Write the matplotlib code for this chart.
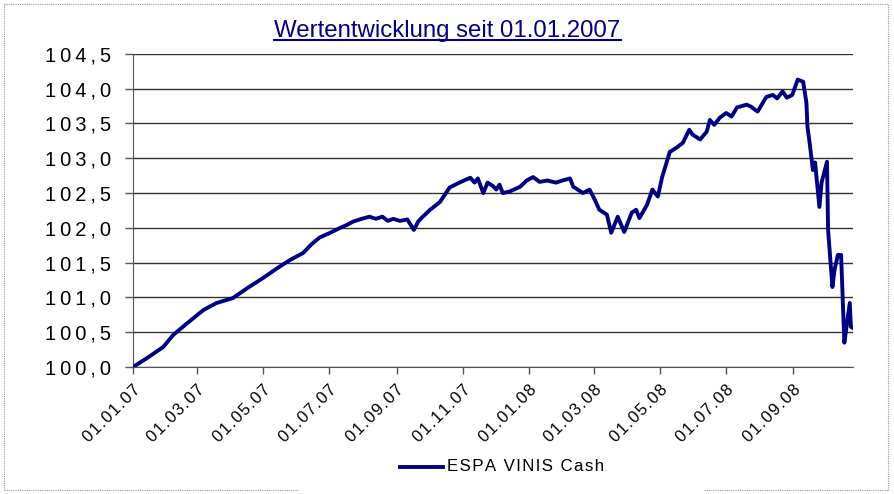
import matplotlib
matplotlib.use('Agg')
import matplotlib.pyplot as plt
import matplotlib.transforms as mtransforms
from matplotlib.lines import Line2D
import pandas as pd

plt.rcParams['font.family'] = ['Liberation Sans', 'DejaVu Sans']

# values
dates = ['2007-01-01', '2007-01-15', '2007-01-29', '2007-02-07', '2007-02-20', '2007-03-07',
         '2007-03-19', '2007-04-03', '2007-04-17', '2007-05-01', '2007-05-14', '2007-05-26',
         '2007-06-07', '2007-06-15', '2007-06-22', '2007-07-02', '2007-07-11', '2007-07-17',
         '2007-07-23', '2007-07-31', '2007-08-07', '2007-08-13', '2007-08-19', '2007-08-24',
         '2007-08-29', '2007-09-04', '2007-09-11', '2007-09-17', '2007-09-21', '2007-09-24',
         '2007-10-02', '2007-10-11', '2007-10-20', '2007-10-29', '2007-11-08', '2007-11-12',
         '2007-11-15', '2007-11-20', '2007-11-24', '2007-11-29', '2007-12-02', '2007-12-05',
         '2007-12-08', '2007-12-14', '2007-12-24', '2007-12-30', '2008-01-05', '2008-01-11',
         '2008-01-18', '2008-01-26', '2008-02-01', '2008-02-08', '2008-02-11', '2008-02-20',
         '2008-02-26', '2008-03-02', '2008-03-06', '2008-03-13', '2008-03-17', '2008-03-23',
         '2008-03-29', '2008-04-05', '2008-04-09', '2008-04-12', '2008-04-19', '2008-04-24',
         '2008-04-29', '2008-05-03', '2008-05-10', '2008-05-16', '2008-05-22', '2008-05-28',
         '2008-05-31', '2008-06-07', '2008-06-13', '2008-06-16', '2008-06-20', '2008-06-25',
         '2008-07-01', '2008-07-06', '2008-07-11', '2008-07-20', '2008-07-24', '2008-07-30',
         '2008-08-07', '2008-08-13', '2008-08-17', '2008-08-22', '2008-08-26', '2008-08-31',
         '2008-09-05', '2008-09-10', '2008-09-13', '2008-09-14', '2008-09-16', '2008-09-19',
         '2008-09-21', '2008-09-25', '2008-09-27', '2008-10-02', '2008-10-03', '2008-10-07',
         '2008-10-09', '2008-10-12', '2008-10-15', '2008-10-18', '2008-10-20', '2008-10-23',
         '2008-10-24', '2008-10-26']
values = [100.00, 100.14, 100.29, 100.46, 100.63, 100.82,
          100.92, 100.99, 101.14, 101.28, 101.42, 101.54,
          101.64, 101.77, 101.86, 101.93, 102.00, 102.04,
          102.09, 102.13, 102.16, 102.13, 102.16, 102.10,
          102.13, 102.10, 102.12, 101.97, 102.09, 102.14,
          102.26, 102.37, 102.58, 102.65, 102.72, 102.65,
          102.71, 102.50, 102.65, 102.60, 102.55, 102.62,
          102.50, 102.52, 102.59, 102.68, 102.73, 102.66,
          102.68, 102.65, 102.68, 102.71, 102.59, 102.50,
          102.55, 102.40, 102.26, 102.19, 101.93, 102.16,
          101.94, 102.22, 102.26, 102.14, 102.33, 102.55,
          102.45, 102.73, 103.09, 103.15, 103.22, 103.41,
          103.34, 103.27, 103.38, 103.55, 103.48, 103.58,
          103.65, 103.60, 103.73, 103.77, 103.74, 103.67,
          103.88, 103.91, 103.86, 103.96, 103.87, 103.91,
          104.13, 104.10, 103.80, 103.45, 103.22, 102.83,
          102.94, 102.30, 102.65, 102.95, 101.97, 101.15,
          101.40, 101.61, 101.61, 100.35, 100.58, 100.92,
          100.58, 100.56]
series_name = 'ESPA VINIS Cash'
title = 'Wertentwicklung seit 01.01.2007'
y_ticks = [100.0, 100.5, 101.0, 101.5, 102.0, 102.5, 103.0, 103.5, 104.0, 104.5]
x_ticks = ['2007-01-01', '2007-03-01', '2007-05-01', '2007-07-01', '2007-09-01', '2007-11-01',
           '2008-01-01', '2008-03-01', '2008-05-01', '2008-07-01', '2008-09-01']


def spaced(s, sp):
    # Excel-like letter spacing
    return sp.join(s)


navy = '#000080'
x = pd.to_datetime(dates)

fig = plt.figure(figsize=(8.95, 4.94), dpi=100)
ax = fig.add_axes([0.1486, 0.257, 0.8045, 0.634])

for yv in y_ticks:
    ax.axhline(yv, color='#333333', lw=1, zorder=1)

ax.plot(x, values, color=navy, lw=2.8, zorder=3)

ax.set_ylim(100, 104.5)
ax.set_xlim(pd.Timestamp('2007-01-01'), pd.Timestamp('2008-10-26'))
ax.set_yticks(y_ticks)
ax.set_yticklabels([spaced(('%.1f' % v).replace('.', ','), '\u2009') for v in y_ticks],
                   fontsize=14.5)
xt = pd.to_datetime(x_ticks)
ax.set_xticks(xt)
ax.set_xticklabels([spaced(d.strftime('%d.%m.%y'), '\u200a') for d in xt], fontsize=12,
                   rotation=45, ha='right', va='top', rotation_mode='anchor')
shift = mtransforms.ScaledTranslation(-17 / 100, -8 / 100, fig.dpi_scale_trans)
for lab in ax.get_xticklabels():
    lab.set_transform(lab.get_transform() + shift)
ax.tick_params(axis='y', length=6, width=1, color='#555555', pad=10)
ax.tick_params(axis='x', length=5, width=1, color='#555555', pad=6)

for s in ['top', 'right']:
    ax.spines[s].set_visible(False)
ax.spines['left'].set_color('#555555')
ax.spines['bottom'].set_color('#555555')

t = fig.text(0.5, 0.938, title, ha='center', va='center', fontsize=17.3, color=navy)
fig.canvas.draw()
bb = t.get_window_extent().transformed(fig.transFigure.inverted())
fig.add_artist(Line2D([bb.x0, bb.x1], [bb.y0 + 0.004, bb.y0 + 0.004],
                      transform=fig.transFigure, color=navy, lw=1.5))

# legend
ly = 0.055
fig.add_artist(Line2D([400 / 895, 443 / 895], [ly, ly], transform=fig.transFigure,
                      color=navy, lw=2.8))
fig.text(447 / 895, ly, spaced(series_name, '\u200a'), ha='left', va='center', fontsize=12.2)

# dotted frame around the chart
fc = '#999999'
for xs, ys in [([0.004, 0.992], [0.992, 0.992]), ([0.004, 0.004], [0.008, 0.992]),
               ([0.992, 0.992], [0.008, 0.992]), ([0.004, 0.333], [0.008, 0.008]),
               ([0.787, 0.992], [0.008, 0.008])]:
    fig.add_artist(Line2D(xs, ys, transform=fig.transFigure, color=fc, lw=0.8, ls=(0, (1, 1))))

fig.savefig('out.png', dpi=100)
